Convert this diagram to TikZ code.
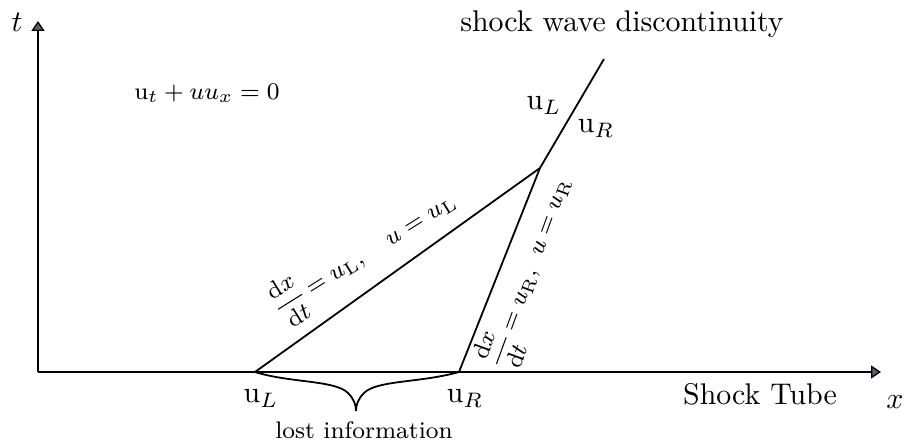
\documentclass[tikz,border=0pt]{standalone}
\usepackage{amsmath}
\usetikzlibrary{arrows.meta}
\definecolor{tipfill}{RGB}{84,98,122}
\newcommand{\slfrac}{\nulldelimiterspace=0pt\relax\dfrac{\mathrm{d}x}{\mathrm{d}t}}
\begin{document}
\begin{tikzpicture}[x=0.3344pt,y=-0.3344pt,
  line/.style={line width=0.6pt},
  axis/.style={line width=0.6pt,-{Triangle[length=3.3pt,width=4.3pt,fill=tipfill,line width=0.45pt]}},
  lbl/.style={inner sep=0pt, anchor=base},
  slopelbl/.style={inner sep=0pt, font=\fontsize{8.5}{10}\selectfont}]
\useasboundingbox (0,0) rectangle (905,442);
\coordinate (O) at (38,372);
\coordinate (tend) at (38,21);
\coordinate (xend) at (881,372);
\coordinate (A) at (255,372);
\coordinate (B) at (459,372);
\coordinate (C) at (540,168);
\coordinate (D) at (604,59);
\coordinate (brtip) at (356,411);
\draw[axis] (O) -- (tend);
\draw[axis] (O) -- (xend);
\draw[line] (A) -- (C);
\draw[line] (B) -- (C);
\draw[line] (C) -- (D);
\draw[line] (A) .. controls (290,383) and (335,380) .. (348,393) .. controls (354,399) and (356,405) .. (brtip);
\draw[line] (B) .. controls (420,383) and (377,380) .. (364,393) .. controls (358,399) and (356,405) .. (brtip);
\node[slopelbl, rotate=32] (labL) at (365,253) {$\slfrac = u_{\mathrm{L}},\quad u = u_{\mathrm{L}}$};
\node[slopelbl, font=\fontsize{8}{10}\selectfont, rotate=70] (labR) at (528.5,271) {$\slfrac = u_{\mathrm{R}},\hspace{3.5pt} u = u_{\mathrm{R}}$};
\node[lbl] (t) at (17,32) {$t$};
\node[lbl] (x) at (895,408) {$x$};
\node[lbl, font=\footnotesize] (eq) at (207,100) {$\mathrm{u}_t + uu_x = 0$};
\node[lbl] (sw) at (622,32) {shock wave discontinuity};
\node[lbl] (uL1) at (261,403) {$\mathrm{u}_L$};
\node[lbl] (uR1) at (465,403) {$\mathrm{u}_R$};
\node[lbl] (uL2) at (544,110) {$\mathrm{u}_L$};
\node[lbl] (uR2) at (596,133) {$\mathrm{u}_R$};
\node[lbl] (st) at (760,405) {Shock Tube};
\node[lbl, font=\footnotesize] (li) at (364,439) {lost information};
\end{tikzpicture}
\end{document}
